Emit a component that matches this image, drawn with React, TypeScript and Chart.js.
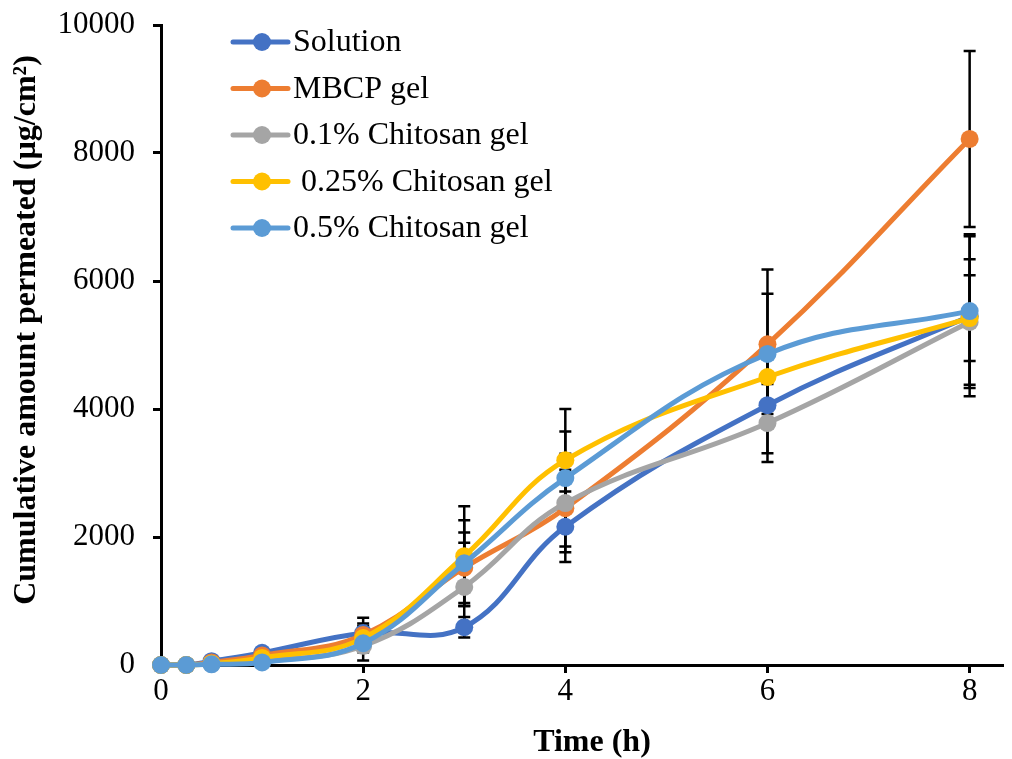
import React, { useEffect, useRef } from "react";
import { Chart, registerables } from "chart.js";

Chart.register(...registerables);

const FONT = '"Liberation Serif", "Times New Roman", serif';

// Sampling times (h)
const timeH = [0, 0.25, 0.5, 1, 2, 3, 4, 6, 8];

// Cumulative amount permeated (µg/cm²) and standard deviations
const solution = [0, 0, 60, 190, 500, 590, 2160, 4060, 5450];
const solutionSd = [0, 0, 0, 0, 150, 160, 550, 750, 1250];

const mbcpGel = [0, 0, 40, 150, 470, 1520, 2450, 5010, 8220];
const mbcpGelSd = [0, 0, 0, 0, 270, 550, 600, 1170, 1375];

const chitosan01 = [0, 0, 20, 60, 300, 1220, 2530, 3780, 5360];
const chitosan01Sd = [0, 0, 0, 0, 0, 690, 770, 610, 980];

const chitosan025 = [0, 0, 20, 110, 420, 1700, 3200, 4500, 5420];
const chitosan025Sd = [0, 0, 0, 0, 0, 780, 800, 0, 670];

const chitosan05 = [0, 0, 10, 40, 340, 1590, 2920, 4860, 5530];
const chitosan05Sd = [0, 0, 0, 0, 270, 670, 730, 940, 1200];

const seriesNames = [
  "Solution",
  "MBCP gel",
  "0.1% Chitosan gel",
  " 0.25% Chitosan gel",
  "0.5% Chitosan gel",
];
const seriesColors = ["#4472C4", "#ED7D31", "#A5A5A5", "#FFC000", "#5B9BD5"];
const seriesValues = [solution, mbcpGel, chitosan01, chitosan025, chitosan05];
const seriesSd = [solutionSd, mbcpGelSd, chitosan01Sd, chitosan025Sd, chitosan05Sd];
const drawOrder = [5, 4, 3, 2, 1];

const xTicks = [0, 2, 4, 6, 8];
const yTicks = [0, 2000, 4000, 6000, 8000, 10000];

const xTitle = "Time (h)";
const yTitle = "Cumulative amount permeated (µg/cm²)";

// Vertical error bars with caps, drawn beneath the lines and markers
const errorBarPlugin = {
  id: "errorBars",
  beforeDatasetsDraw(chart: any) {
    const { ctx } = chart;
    const xs = chart.scales.x;
    const ys = chart.scales.y;
    ctx.save();
    ctx.strokeStyle = "#000";
    ctx.lineWidth = 2.5;
    chart.data.datasets.forEach((ds: any) => {
      const sd: number[] = ds.sd;
      if (!sd) return;
      ds.data.forEach((p: any, i: number) => {
        const e = sd[i];
        if (!e) return;
        const px = xs.getPixelForValue(p.x);
        const top = ys.getPixelForValue(p.y + e);
        const bot = ys.getPixelForValue(p.y - e);
        ctx.beginPath();
        ctx.moveTo(px, top);
        ctx.lineTo(px, bot);
        ctx.moveTo(px - 6, top);
        ctx.lineTo(px + 6, top);
        ctx.moveTo(px - 6, bot);
        ctx.lineTo(px + 6, bot);
        ctx.stroke();
      });
    });
    ctx.restore();
  },
};

// Axis titles and the legend stacked in the upper-left of the plot area
const annotationPlugin = {
  id: "annotations",
  afterDraw(chart: any) {
    const { ctx, chartArea } = chart;
    ctx.save();

    // Axis titles
    ctx.fillStyle = "#000";
    ctx.font = `bold 32px ${FONT}`;
    ctx.textAlign = "center";
    ctx.textBaseline = "middle";
    ctx.fillText(xTitle, (chartArea.left + chartArea.right) / 2 + 10, chart.height - 16);
    ctx.save();
    ctx.translate(27, (chartArea.top + chartArea.bottom) / 2 - 15);
    ctx.rotate(-Math.PI / 2);
    ctx.fillText(yTitle, 0, 0);
    ctx.restore();

    // Legend
    const left = chartArea.left + 72;
    const top = chartArea.top + 17;
    const rowGap = 46.5;
    seriesNames.forEach((name, i) => {
      const y = top + i * rowGap;
      ctx.strokeStyle = seriesColors[i];
      ctx.lineWidth = 5;
      ctx.lineCap = "round";
      ctx.beginPath();
      ctx.moveTo(left, y);
      ctx.lineTo(left + 55, y);
      ctx.stroke();
      ctx.fillStyle = seriesColors[i];
      ctx.beginPath();
      ctx.arc(left + 29, y, 9, 0, Math.PI * 2);
      ctx.fill();
      ctx.fillStyle = "#000";
      ctx.font = `32px ${FONT}`;
      ctx.textBaseline = "middle";
      ctx.textAlign = "left";
      ctx.fillText(name, left + 60, y + 1);
    });
    ctx.restore();
  },
};

export default function App() {
  const canvasRef = useRef<HTMLCanvasElement | null>(null);

  useEffect(() => {
    if (!canvasRef.current) return;
    const datasets = seriesNames.map((name, i) => ({
      label: name,
      data: timeH.map((t, j) => ({ x: t, y: seriesValues[i][j] })),
      sd: seriesSd[i],
      borderColor: seriesColors[i],
      backgroundColor: seriesColors[i],
      pointBackgroundColor: seriesColors[i],
      pointBorderColor: seriesColors[i],
      pointRadius: 9,
      pointBorderWidth: 0,
      borderWidth: 5,
      tension: 0.4,
      fill: false,
      clip: false,
      order: drawOrder[i],
    }));

    const chart = new Chart(canvasRef.current, {
      type: "line",
      data: { datasets } as any,
      options: {
        animation: false,
        responsive: false,
        devicePixelRatio: 1,
        layout: { padding: { top: 25, right: 4, bottom: 0, left: 0 } },
        plugins: {
          legend: { display: false },
          tooltip: { enabled: false },
        },
        scales: {
          x: {
            type: "linear",
            min: 0,
            max: 8.33,
            afterBuildTicks: (s: any) => {
              s.ticks = xTicks.map((v) => ({ value: v }));
            },
            afterFit: (s: any) => {
              s.height = 94;
              s.paddingLeft = 0;
              s.paddingRight = 0;
            },
            border: { display: true, color: "#000", width: 3 },
            grid: {
              display: true,
              drawOnChartArea: false,
              drawTicks: true,
              tickLength: 8,
              tickWidth: 3,
              tickColor: "#000",
            },
            ticks: {
              font: { family: FONT, size: 31 },
              color: "#000",
              padding: 0,
              maxRotation: 0,
            },
          },
          y: {
            type: "linear",
            min: 0,
            max: 10000,
            afterBuildTicks: (s: any) => {
              s.ticks = yTicks.map((v) => ({ value: v }));
            },
            afterFit: (s: any) => {
              s.width = 161;
              s.paddingTop = 0;
              s.paddingBottom = 0;
            },
            border: { display: true, color: "#000", width: 3 },
            grid: {
              display: true,
              drawOnChartArea: false,
              drawTicks: true,
              tickLength: 8,
              tickWidth: 3,
              tickColor: "#000",
            },
            ticks: {
              font: { family: FONT, size: 31 },
              color: "#000",
              padding: 18,
              callback: (v: any) => String(v),
            },
          },
        },
      } as any,
      plugins: [errorBarPlugin, annotationPlugin],
    });

    return () => chart.destroy();
  }, []);

  return (
    <div style={{ position: "fixed", left: 0, top: 0, width: 1012, height: 759, background: "#fff" }}>
      <canvas ref={canvasRef} width={1012} height={759} style={{ display: "block" }} />
    </div>
  );
}
